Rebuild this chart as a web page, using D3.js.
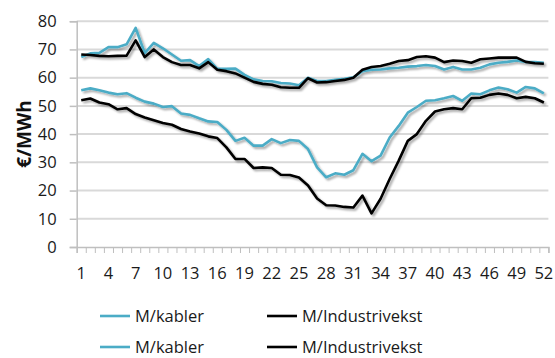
<!DOCTYPE html>
<html>
<head>
<meta charset="utf-8">
<script src="https://cdn.jsdelivr.net/npm/d3@7"></script>
<style>
  html, body { margin: 0; padding: 0; background: #fff; }
  svg { display: block; font-family: "Open Sans", "Liberation Sans", sans-serif; }
</style>
</head>
<body>
<svg id="chart" width="555" height="358"></svg>
<script>
// Weekly prices, €/MWh
const weeks = [1,2,3,4,5,6,7,8,9,10,11,12,13,14,15,16,17,18,19,20,21,22,23,24,25,26,
               27,28,29,30,31,32,33,34,35,36,37,38,39,40,41,42,43,44,45,46,47,48,49,50,51,52];

const kablerHigh = [67.3,68.6,68.8,70.8,70.8,71.8,77.6,68.7,72.3,70.4,68.2,66.0,66.2,64.1,66.6,63.1,63.1,63.2,61.0,59.4,58.8,58.7,58.1,57.9,57.3,60.0,
                    58.8,58.8,59.2,59.6,60.1,62.3,62.8,62.9,63.3,63.5,63.9,64.1,64.5,64.1,62.9,63.8,62.9,62.9,63.5,64.7,65.3,65.6,66.1,65.6,65.5,65.3];
const industriHigh = [68.2,68.0,67.7,67.6,67.7,67.8,73.2,67.3,70.0,67.3,65.5,64.5,64.5,63.3,65.5,62.8,62.3,61.5,60.0,58.5,57.8,57.5,56.6,56.4,56.4,59.8,
                      58.3,58.4,58.8,59.2,60.0,62.8,63.8,64.1,64.9,65.9,66.2,67.3,67.6,67.1,65.5,66.1,65.9,65.3,66.5,66.8,67.1,67.1,67.1,65.6,65.1,64.9];
const kablerLow = [55.5,56.2,55.5,54.7,54.1,54.5,52.9,51.5,50.8,49.6,49.9,47.3,46.8,45.6,44.5,44.3,41.5,37.6,38.7,35.9,35.9,38.2,36.8,37.9,37.6,34.7,
                   28.2,24.7,26.1,25.6,27.2,33.0,30.4,32.4,38.8,42.9,47.6,49.6,51.8,52.0,52.7,53.5,51.8,54.4,54.1,55.5,56.5,55.9,54.7,56.7,56.2,54.4];
const industriLow = [52.0,52.6,51.2,50.6,48.8,49.2,47.1,45.9,44.9,43.9,43.3,41.8,40.9,40.2,39.2,38.6,35.3,31.2,31.2,28.0,28.2,28.0,25.6,25.5,24.6,21.8,
                     17.2,14.8,14.7,14.2,14.0,18.2,11.9,17.1,24.1,30.6,37.6,40.0,44.7,48.0,48.8,49.2,48.8,52.7,52.9,53.9,54.4,53.9,52.7,53.2,52.7,51.2];

const yTicks = [0,10,20,30,40,50,60,70,80];
const xLabels = [1,4,7,10,13,16,19,22,25,28,31,34,37,40,43,46,49,52];

const seriesNames = ["M/kabler", "M/Industrivekst"];
const colors = { "M/kabler": "#4bacc6", "M/Industrivekst": "#000000" };

const series = [
  { name: "M/kabler", values: kablerHigh },
  { name: "M/Industrivekst", values: industriHigh },
  { name: "M/kabler", values: kablerLow },
  { name: "M/Industrivekst", values: industriLow }
];

const svg = d3.select("#chart");
const plot = { left: 76.7, right: 548.4, top: 21.2, bottom: 247 };

const x = d3.scaleBand().domain(weeks).range([plot.left, plot.right]).paddingInner(0).paddingOuter(0);
const xEdge = d3.scaleLinear().domain([0, weeks.length]).range([plot.left, plot.right]);
const y = d3.scaleLinear().domain([0, 80]).range([plot.bottom, plot.top]);

// soft drop shadow under the lines
const defs = svg.append("defs");
const f = defs.append("filter").attr("id", "shadow")
  .attr("x", "-5%").attr("y", "-10%").attr("width", "115%").attr("height", "130%");
f.append("feGaussianBlur").attr("in", "SourceAlpha").attr("stdDeviation", 1.3).attr("result", "b");
f.append("feOffset").attr("in", "b").attr("dx", 1.5).attr("dy", 1.8).attr("result", "o");
f.append("feComponentTransfer").attr("in", "o").attr("result", "s")
  .append("feFuncA").attr("type", "linear").attr("slope", 0.35);
const m = f.append("feMerge");
m.append("feMergeNode").attr("in", "s");
m.append("feMergeNode").attr("in", "SourceGraphic");

// gridlines
svg.append("g")
  .selectAll("line").data(yTicks.filter(d => d > 0)).join("line")
  .attr("x1", plot.left).attr("x2", plot.right)
  .attr("y1", d => y(d)).attr("y2", d => y(d))
  .attr("stroke", "#d9d9d9").attr("stroke-width", 2);

// y axis
const yAxis = svg.append("g").attr("transform", `translate(${plot.left},0)`)
  .call(d3.axisLeft(y).tickValues(yTicks).tickSize(7).tickPadding(13));
yAxis.select(".domain").attr("stroke", "#bfbfbf").attr("stroke-width", 1.5);
yAxis.selectAll(".tick line").attr("stroke", "#bfbfbf").attr("stroke-width", 1.5);
yAxis.selectAll("text").attr("font-size", "16.5px").attr("fill", "#1a1a1a")
  .attr("font-family", "'Open Sans', sans-serif");

// x axis: tick marks between categories
const xTickAxis = svg.append("g").attr("transform", `translate(0,${plot.bottom})`)
  .call(d3.axisBottom(xEdge).tickValues(d3.range(0, weeks.length + 1)).tickSize(6).tickFormat(""));
xTickAxis.select(".domain").attr("stroke", "#bfbfbf").attr("stroke-width", 1.5);
xTickAxis.selectAll(".tick line").attr("stroke", "#bfbfbf").attr("stroke-width", 1);

// x axis: category labels
const xLabelAxis = svg.append("g").attr("transform", `translate(0,${plot.bottom})`)
  .call(d3.axisBottom(x).tickValues(xLabels).tickSize(0).tickPadding(20));
xLabelAxis.select(".domain").remove();
xLabelAxis.selectAll("text").attr("font-size", "16.5px").attr("fill", "#1a1a1a")
  .attr("font-family", "'Open Sans', sans-serif");

// axis title
svg.append("text")
  .attr("transform", "translate(31,134) rotate(-90)")
  .attr("text-anchor", "middle")
  .attr("font-size", "19px").attr("font-weight", "bold").attr("fill", "#111")
  .text("€/MWh");

// lines
const line = d3.line()
  .x((d, i) => x(weeks[i]) + x.bandwidth() / 2)
  .y(d => y(d));

svg.append("g").attr("filter", "url(#shadow)")
  .selectAll("path").data(series).join("path")
  .attr("d", d => line(d.values))
  .attr("fill", "none")
  .attr("stroke", d => colors[d.name])
  .attr("stroke-width", 2.6)
  .attr("stroke-linejoin", "round");

// legend: two rows
const legendRows = [316, 347];
const legendCols = [{ x: 100, name: seriesNames[0] }, { x: 267, name: seriesNames[1] }];
const lg = svg.append("g");
legendRows.forEach(ry => {
  legendCols.forEach(c => {
    lg.append("line")
      .attr("x1", c.x).attr("x2", c.x + 30).attr("y1", ry).attr("y2", ry)
      .attr("stroke", colors[c.name]).attr("stroke-width", 2.6);
    lg.append("text")
      .attr("x", c.x + 35).attr("y", ry).attr("dy", "0.35em")
      .attr("font-size", "16.5px").attr("fill", "#1a1a1a")
      .text(c.name);
  });
});
</script>
</body>
</html>
